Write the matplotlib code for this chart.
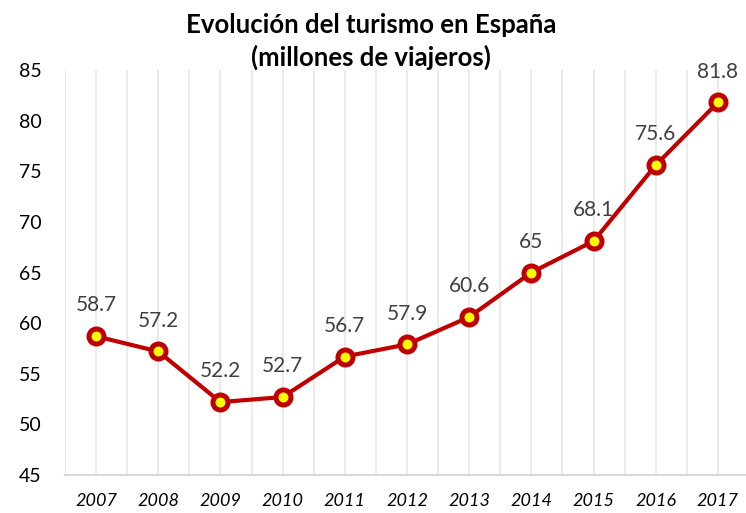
import matplotlib
matplotlib.use("Agg")
import matplotlib.pyplot as plt
import numpy as np

years = ["2007", "2008", "2009", "2010", "2011", "2012", "2013", "2014", "2015", "2016", "2017"]
values = [58.7, 57.2, 52.2, 52.7, 56.7, 57.9, 60.6, 65, 68.1, 75.6, 81.8]
labels = ["58.7", "57.2", "52.2", "52.7", "56.7", "57.9", "60.6", "65", "68.1", "75.6", "81.8"]
yticks = [45, 50, 55, 60, 65, 70, 75, 80, 85]

plt.rcParams['font.family'] = ['Lato', 'DejaVu Sans']

fig = plt.figure(figsize=(7.46, 5.13), dpi=100)
W, H = 746, 513
left, right, top, bottom = 65, 749, 70, 475
ax = fig.add_axes([left / W, 1 - bottom / H, (right - left) / W, (bottom - top) / H])

x = np.arange(len(years))
ax.set_xlim(-0.5, len(years) - 0.5)
ax.set_ylim(45, 85)

# vertical gridlines at categories and boundaries
for g in np.arange(-0.5, len(years), 0.5):
    ax.axvline(g, color='#e6e6e6', lw=1.2, zorder=0)

ax.plot(x, values, color='#C00000', lw=3, marker='o', ms=10.8,
        mfc='#FFFF00', mec='#C00000', mew=3.6, zorder=3, clip_on=False)

for xi, v, lab in zip(x, values, labels):
    ax.annotate(lab, (xi, v), xytext=(0, 15), textcoords='offset points',
                ha='center', va='bottom', fontsize=15, color='#404040')

ax.set_yticks(yticks)
ax.set_yticklabels([str(t) for t in yticks], fontsize=14, color='black')
ax.set_xticks(x)
ax.set_xticklabels(years, fontsize=13, style='italic', color='black')
ax.tick_params(axis='both', length=0)
ax.tick_params(axis='y', pad=17)
ax.tick_params(axis='x', pad=13)

for s in ['top', 'right', 'left']:
    ax.spines[s].set_visible(False)
ax.spines['bottom'].set_color('#d9d9d9')
ax.spines['bottom'].set_linewidth(1.5)

fig.text(0.497, 1 - 25 / H, "Evolución del turismo en España",
         ha='center', va='center', fontsize=18.5, fontweight='bold')
fig.text(0.497, 1 - 57 / H, "(millones de viajeros)",
         ha='center', va='center', fontsize=18.5, fontweight='bold')

fig.savefig("out.png", dpi=100)
